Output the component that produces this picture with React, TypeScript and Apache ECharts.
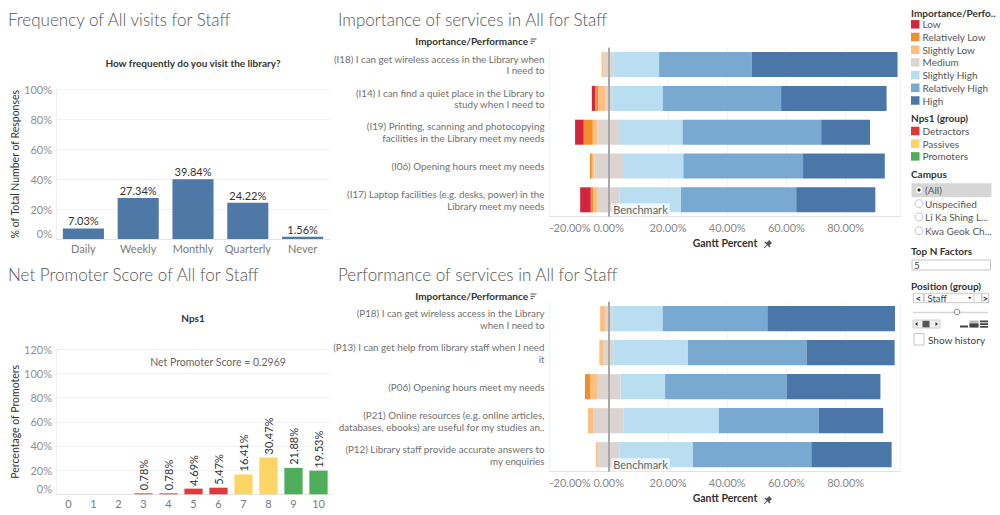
import React, { useEffect, useRef } from "react";
import * as echarts from "echarts";

const FONT = "Lato, 'Open Sans', sans-serif";

// ---------- Data ----------
const freqCategories = ["Daily", "Weekly", "Monthly", "Quarterly", "Never"];
const freqValues = [7.03, 27.34, 39.84, 24.22, 1.56];

const npsCategories = ["0", "1", "2", "3", "4", "5", "6", "7", "8", "9", "10"];
const npsValues: (number | null)[] = [null, null, null, 0.78, 0.78, 4.69, 5.47, 16.41, 30.47, 21.88, 19.53];
const npsGroupOf = ["Detractors", "Detractors", "Detractors", "Detractors", "Detractors", "Detractors", "Detractors", "Passives", "Passives", "Promoters", "Promoters"];
const npsGroups = ["Detractors", "Passives", "Promoters"];
const npsColors = ["#e0393b", "#fdd466", "#4fae5a"];

const levels = ["Low", "Relatively Low", "Slightly Low", "Medium", "Slightly High", "Relatively High", "High"];
const levelColors = ["#d3263e", "#f28e2b", "#fdbf80", "#dcd4d0", "#b9ddf1", "#79a9d0", "#4a77a7"];

const importanceLabels = [
  "(I18) I can get wireless access in the Library when\nI need to",
  "(I14) I can find a quiet place in the Library to\nstudy when I need to",
  "(I19) Printing, scanning and photocopying\nfacilities in the Library meet my needs",
  "(I06) Opening hours meet my needs",
  "(I17) Laptop facilities (e.g. desks, power) in the\nLibrary meet my needs",
];
const impLow = [0, 1.2, 2.95, 0, 3.6];
const impRelLow = [0, 1.0, 3.05, 0.65, 0.9];
const impSlLow = [0.7, 2.3, 1.55, 0.9, 1.45];
const impMedium = [3.4, 2.4, 7.65, 9.6, 7.4];
const impSlHigh = [15.3, 17.1, 21.1, 20.4, 20.7];
const impRelHigh = [31.3, 39.9, 46.8, 40.4, 38.9];
const impHigh = [49.2, 35.6, 16.5, 27.6, 26.7];

const performanceLabels = [
  "(P18) I can get wireless access in the Library\nwhen I need to",
  "(P13) I can get help from library staff when I need\nit",
  "(P06) Opening hours meet my needs",
  "(P21) Online resources (e.g. online articles,\ndatabases, ebooks) are useful for my studies an..",
  "(P12) Library staff provide accurate answers to\nmy enquiries",
];
const perfLow = [0, 0, 0, 0, 0];
const perfRelLow = [0, 0, 1.7, 0, 0];
const perfSlLow = [1.7, 1.5, 2.35, 2.0, 0.6];
const perfMedium = [2.4, 3.35, 7.95, 10.1, 7.4];
const perfSlHigh = [17.0, 25.05, 15.05, 32.1, 24.7];
const perfRelHigh = [35.35, 40.1, 41.05, 33.8, 40.0];
const perfHigh = [43.1, 29.7, 31.65, 21.7, 27.1];

const ganttTicks = { min: -20, max: 98.5, interval: 20 };

// ---------- helpers ----------
function ganttSeries(idx: number, rows: number[][], labels: string[]) {
  const offsets = rows[0].map((_, i) => -(rows[0][i] + rows[1][i] + rows[2][i] + rows[3][i] / 2));
  const stack = "g" + idx;
  const base: any = {
    type: "bar",
    stack,
    stackStrategy: "all",
    xAxisIndex: idx,
    yAxisIndex: idx,
    barCategoryGap: "26%",
    silent: true,
  };
  const out: any[] = [
    {
      ...base,
      name: "_offset" + idx,
      data: offsets,
      itemStyle: { color: "rgba(0,0,0,0)" },
      markLine: {
        silent: true,
        symbol: ["none", "none"],
        lineStyle: { color: "#a8a8a8", width: 2, type: "solid" },
        label: { show: false },
        data: [{ xAxis: 0 }],
      },
      markPoint: {
        silent: true,
        symbol: "rect",
        symbolSize: 1,
        itemStyle: { color: "rgba(0,0,0,0)" },
        data: [{ coord: [0, labels[labels.length - 1]], value: 0 }],
        label: {
          show: true,
          formatter: "Benchmark",
          position: "right",
          distance: 2,
          offset: [0, 10],
          color: "#666",
          fontSize: 11,
          fontFamily: FONT,
          backgroundColor: "rgba(255,255,255,0.75)",
          padding: [1, 2, 1, 2],
        },
      },
    },
  ];
  levels.forEach((lv, k) => {
    out.push({ ...base, name: lv, data: rows[k], itemStyle: { color: levelColors[k] } });
  });
  return out;
}

function ganttYAxis(idx: number, labels: string[]) {
  return {
    type: "category",
    gridIndex: idx,
    data: labels,
    inverse: true,
    axisLine: { show: true, lineStyle: { color: "#ececec" } },
    axisTick: { show: false },
    axisLabel: { color: "#707070", fontSize: 9.8, lineHeight: 11.7, margin: 5, fontFamily: FONT },
  };
}

function ganttXAxis(idx: number) {
  return {
    type: "value",
    gridIndex: idx,
    min: ganttTicks.min,
    max: ganttTicks.max,
    interval: ganttTicks.interval,
    axisLine: { show: true, lineStyle: { color: "#e2e2e2" } },
    axisTick: { show: false },
    splitLine: { show: true, lineStyle: { color: "#f3f3f3" } },
    axisLabel: {
      formatter: (v: number) => v.toFixed(2) + "%",
      color: "#888",
      fontSize: 11,
      margin: 5,
      fontFamily: FONT,
      showMaxLabel: false,
      alignMinLabel: "left",
    },
    name: "Gantt Percent",
    nameLocation: "middle",
    nameGap: 21,
    nameTextStyle: { fontWeight: "bold", color: "#333", fontSize: 10.5, fontFamily: FONT },
  };
}

function txt(text: string, x: number, y: number, o: any = {}) {
  return {
    type: "text",
    x,
    y,
    silent: true,
    style: {
      text,
      fill: o.fill || "#333",
      fontSize: o.size || 10,
      fontFamily: FONT,
      fontWeight: o.weight || "normal",
      align: o.align || "left",
      verticalAlign: "middle",
    },
  };
}

function pin(x: number, y: number) {
  return {
    type: "group",
    x,
    y,
    rotation: -Math.PI / 4,
    silent: true,
    children: [
      { type: "rect", shape: { x: -2, y: -5, width: 4, height: 4 }, style: { fill: "#555" } },
      { type: "rect", shape: { x: -3.5, y: -1.5, width: 7, height: 1.5 }, style: { fill: "#555" } },
      { type: "line", shape: { x1: 0, y1: 0, x2: 0, y2: 4 }, style: { stroke: "#555", lineWidth: 1 } },
    ],
  };
}

function sortIcon(x: number, y: number) {
  return {
    type: "group",
    x,
    y,
    silent: true,
    children: [
      { type: "line", shape: { x1: 0, y1: 0, x2: 6, y2: 0 }, style: { stroke: "#555", lineWidth: 1 } },
      { type: "line", shape: { x1: 0, y1: 2.3, x2: 4.5, y2: 2.3 }, style: { stroke: "#555", lineWidth: 1 } },
      { type: "line", shape: { x1: 0, y1: 4.6, x2: 2.5, y2: 4.6 }, style: { stroke: "#555", lineWidth: 1 } },
    ],
  };
}

function buildOption() {
  const npsPromoters = npsValues.reduce((s: number, v, i) => s + (npsGroupOf[i] === "Promoters" && v ? v : 0), 0);
  const npsDetractors = npsValues.reduce((s: number, v, i) => s + (npsGroupOf[i] === "Detractors" && v ? v : 0), 0);
  const npsScore = (npsPromoters - npsDetractors) / 100;

  const axisLbl = { color: "#8f8f8f", fontSize: 11, fontFamily: FONT };

  const graphic: any[] = [
    txt("Frequency of All visits for Staff", 8, 19, { size: 17, fill: "#555", weight: 300 }),
    txt("Importance of services in All for Staff", 338, 19, { size: 17, fill: "#555", weight: 300 }),
    txt("Net Promoter Score of All for Staff", 8, 274, { size: 17, fill: "#555", weight: 300 }),
    txt("Performance of services in All for Staff", 338, 274, { size: 17, fill: "#555", weight: 300 }),
    txt("How frequently do you visit the library?", 193, 63, { weight: "bold", align: "center" }),
    txt("Nps1", 193, 318, { weight: "bold", align: "center" }),
    txt("Net Promoter Score = " + npsScore.toFixed(4), 218, 362, { fill: "#666", size: 10.5, align: "center" }),
    txt("Importance/Performance", 528, 41, { weight: "bold", align: "right" }),
    sortIcon(530.5, 39),
    txt("Importance/Performance", 528, 296, { weight: "bold", align: "right" }),
    sortIcon(530.5, 294),
    pin(767, 245),
    pin(767, 501),
    // right panel
    txt("Importance/Perfo..", 911, 12.5, { weight: "bold" }),
    txt("Nps1 (group)", 911, 118, { weight: "bold" }),
    txt("Campus", 911, 174, { weight: "bold" }),
    { type: "rect", silent: true, shape: { x: 911.5, y: 183.3, width: 80, height: 14 }, style: { fill: "#d6d6d6" } },
  ];
  const campus = ["(All)", "Unspecified", "Li Ka Shing L...", "Kwa Geok Ch..."];
  const cy = [190, 203.7, 217, 230.7];
  campus.forEach((c, i) => {
    graphic.push({ type: "circle", silent: true, shape: { cx: 919, cy: cy[i], r: 4 }, style: { fill: "#fff", stroke: "#c8c8c8", lineWidth: 1 } });
    if (i === 0) graphic.push({ type: "circle", silent: true, shape: { cx: 919, cy: cy[i], r: 1.6 }, style: { fill: "#333" } });
    graphic.push(txt(c, 925, cy[i], { fill: "#555" }));
  });
  graphic.push(
    txt("Top N Factors", 911, 251, { weight: "bold" }),
    { type: "rect", silent: true, shape: { x: 912, y: 260, width: 78.5, height: 10 }, style: { fill: "#fff", stroke: "#c4c4c4", lineWidth: 1 } },
    txt("5", 914, 265.3, { fill: "#444" }),
    txt("Position (group)", 911, 286, { weight: "bold" }),
    { type: "rect", silent: true, shape: { x: 913.3, y: 293.3, width: 10, height: 9.4 }, style: { fill: "#fff", stroke: "#c8c8c8", lineWidth: 1 } },
    txt("<", 918.3, 298, { weight: "bold", align: "center" }),
    { type: "rect", silent: true, shape: { x: 924.3, y: 293.3, width: 57.4, height: 9.4 }, style: { fill: "#fff", stroke: "#c8c8c8", lineWidth: 1 } },
    txt("Staff", 927.5, 298, { fill: "#444", size: 9.5 }),
    { type: "line", silent: true, shape: { x1: 974, y1: 294, x2: 974, y2: 302 }, style: { stroke: "#d0d0d0", lineWidth: 1 } },
    { type: "polygon", silent: true, shape: { points: [[968, 297], [971.5, 297], [969.75, 299.3]] }, style: { fill: "#444" } },
    { type: "rect", silent: true, shape: { x: 982, y: 293.3, width: 6.5, height: 9.4 }, style: { fill: "#fff", stroke: "#c8c8c8", lineWidth: 1 } },
    txt(">", 985.3, 298, { weight: "bold", align: "center" }),
    { type: "line", silent: true, shape: { x1: 913, y1: 312.5, x2: 988, y2: 312.5 }, style: { stroke: "#d6d6d6", lineWidth: 1.5 } },
    { type: "circle", silent: true, shape: { cx: 957, cy: 312, r: 2.8 }, style: { fill: "#fff", stroke: "#777", lineWidth: 1 } },
    { type: "rect", silent: true, shape: { x: 913, y: 320, width: 27, height: 8 }, style: { fill: "#eee", stroke: "#cfcfcf", lineWidth: 1 } },
    { type: "polygon", silent: true, shape: { points: [[915, 324], [917.5, 322], [917.5, 326]] }, style: { fill: "#333" } },
    { type: "rect", silent: true, shape: { x: 922.5, y: 320.8, width: 7, height: 6.5 }, style: { fill: "#555" } },
    { type: "polygon", silent: true, shape: { points: [[938, 324], [935.5, 322], [935.5, 326]] }, style: { fill: "#333" } },
    { type: "rect", silent: true, shape: { x: 960, y: 325.5, width: 8, height: 2 }, style: { fill: "#444" } },
    { type: "rect", silent: true, shape: { x: 969.5, y: 320.5, width: 9, height: 7 }, style: { fill: "#bbb" } },
    { type: "rect", silent: true, shape: { x: 969.5, y: 323.5, width: 9, height: 4 }, style: { fill: "#444" } },
    { type: "rect", silent: true, shape: { x: 980, y: 320.5, width: 8, height: 1.8 }, style: { fill: "#444" } },
    { type: "rect", silent: true, shape: { x: 980, y: 323.2, width: 8, height: 1.8 }, style: { fill: "#444" } },
    { type: "rect", silent: true, shape: { x: 980, y: 325.9, width: 8, height: 1.8 }, style: { fill: "#444" } },
    { type: "rect", silent: true, shape: { x: 914, y: 333.5, width: 10, height: 11.5 }, style: { fill: "#fff", stroke: "#c4c4c4", lineWidth: 1 } },
    txt("Show history", 928, 340, { fill: "#444" })
  );

  const impRows = [impLow, impRelLow, impSlLow, impMedium, impSlHigh, impRelHigh, impHigh];
  const perfRows = [perfLow, perfRelLow, perfSlLow, perfMedium, perfSlHigh, perfRelHigh, perfHigh];

  const npsSeries = npsGroups.map((g, k) => ({
    type: "bar",
    name: g,
    stack: "nps",
    xAxisIndex: 1,
    yAxisIndex: 1,
    barCategoryGap: "27%",
    silent: true,
    itemStyle: { color: npsColors[k] },
    data: npsValues.map((v, i) => (npsGroupOf[i] === g && v != null ? v : "-")),
    label: {
      show: true,
      position: "top",
      rotate: 90,
      align: "left",
      verticalAlign: "middle",
      distance: 3,
      color: "#333",
      fontSize: 11,
      fontFamily: FONT,
      formatter: (p: any) => Number(p.value).toFixed(2) + "%",
    },
  }));

  const legendBase = {
    orient: "vertical",
    left: 911,
    padding: 0,
    icon: "rect",
    itemWidth: 8.5,
    itemHeight: 8.5,
    itemGap: 0.7,
    selectedMode: false,
    textStyle: { color: "#555", fontSize: 10, lineHeight: 12, fontFamily: FONT, padding: [0, 0, 0, -2] },
  };

  return {
    animation: false,
    textStyle: { fontFamily: FONT },
    grid: [
      { left: 56, width: 274, top: 89.3, height: 149.7 },
      { left: 56, width: 275, top: 349.3, height: 145 },
      { left: 549.5, width: 351, top: 47.7, height: 169 },
      { left: 549.5, width: 351, top: 301.7, height: 170 },
    ],
    xAxis: [
      {
        type: "category",
        gridIndex: 0,
        data: freqCategories,
        axisLine: { show: true, lineStyle: { color: "#e4e4e4" } },
        axisTick: { show: false },
        axisLabel: { ...axisLbl, color: "#7a7a7a", margin: 4, interval: 0 },
      },
      {
        type: "category",
        gridIndex: 1,
        data: npsCategories,
        axisLine: { show: true, lineStyle: { color: "#e4e4e4" } },
        axisTick: { show: false },
        axisLabel: { ...axisLbl, color: "#7a7a7a", margin: 4, interval: 0 },
      },
      ganttXAxis(2),
      ganttXAxis(3),
    ],
    yAxis: [
      {
        type: "value",
        gridIndex: 0,
        min: 0,
        max: 100,
        interval: 20,
        axisLine: { show: true, lineStyle: { color: "#f0f0f0" } },
        axisTick: { show: false },
        splitLine: { lineStyle: { color: "#f1f1f1" } },
        axisLabel: { ...axisLbl, margin: 4, formatter: (v: number) => v + "%", verticalAlignMinLabel: "bottom" },
        name: "% of Total Number of Responses",
        nameLocation: "middle",
        nameRotate: 90,
        nameGap: 33,
        nameTextStyle: { color: "#333", fontSize: 10.5, fontFamily: FONT },
      },
      {
        type: "value",
        gridIndex: 1,
        min: 0,
        max: 120,
        interval: 20,
        axisLine: { show: true, lineStyle: { color: "#f0f0f0" } },
        axisTick: { show: false },
        splitLine: { lineStyle: { color: "#f1f1f1" } },
        axisLabel: { ...axisLbl, margin: 4, formatter: (v: number) => v + "%", verticalAlignMinLabel: "bottom" },
        name: "Percentage of Promoters",
        nameLocation: "middle",
        nameRotate: 90,
        nameGap: 33,
        nameTextStyle: { color: "#333", fontSize: 10.5, fontFamily: FONT },
      },
      ganttYAxis(2, importanceLabels),
      ganttYAxis(3, performanceLabels),
    ],
    legend: [
      { ...legendBase, data: levels, top: 18.3 },
      { ...legendBase, data: npsGroups, top: 125 },
    ],
    series: [
      {
        type: "bar",
        name: "Frequency",
        xAxisIndex: 0,
        yAxisIndex: 0,
        data: freqValues,
        barCategoryGap: "25%",
        silent: true,
        itemStyle: { color: "#4e79a7" },
        label: {
          show: true,
          position: "top",
          distance: 2,
          color: "#333",
          fontSize: 11,
          fontFamily: FONT,
          formatter: (p: any) => Number(p.value).toFixed(2) + "%",
        },
      },
      ...npsSeries,
      ...ganttSeries(2, impRows, importanceLabels),
      ...ganttSeries(3, perfRows, performanceLabels),
    ],
    graphic,
  };
}

export default function App() {
  const ref = useRef<HTMLDivElement>(null);
  useEffect(() => {
    if (!ref.current) return;
    const chart = echarts.init(ref.current, undefined, { renderer: "svg" });
    chart.setOption(buildOption() as any);
    return () => chart.dispose();
  }, []);
  return (
    <div
      ref={ref}
      style={{ position: "absolute", left: 0, top: 0, width: 1000, height: 515, background: "#fff" }}
    />
  );
}
